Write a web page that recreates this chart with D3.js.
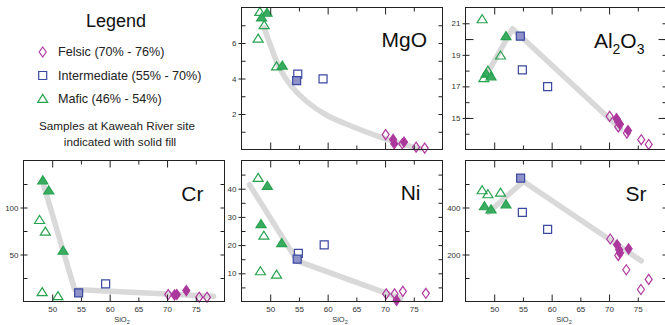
<!DOCTYPE html>
<html><head><meta charset="utf-8">
<script src="https://cdn.jsdelivr.net/npm/d3@7"></script>
<style>
body{margin:0;background:#fff}
svg{display:block}
text{font-family:"Liberation Sans",Arial,Helvetica,sans-serif}
</style>
</head><body>
<svg id="c" width="665" height="325"></svg>
<script>
// ---------------- DATA ----------------
const siDomain = [45, 80];
const xMajorTicks = [50, 60, 70];
const xMinorTicks = [55, 65, 75];
const xTickLabels = [50, 55, 60, 65, 70, 75];

const legendLabels = ["Felsic (70% - 76%)", "Intermediate (55% - 70%)", "Mafic (46% - 54%)"];
const legendGroups = ["F", "I", "M"];

// MgO
const mgoSi    = [47.9, 48.2, 49.45, 48.5, 48.95, 51.1, 52.1, 54.8, 54.6, 59.2, 70.1, 71.4, 71.6, 73.0, 73.3, 75.4, 76.9];
const mgoVal   = [6.24, 7.75, 7.7, 7.43, 7.0, 4.68, 4.72, 4.25, 3.88, 3.98, 0.84, 0.57, 0.32, 0.32, 0.42, 0.13, 0.08];
const mgoGroup = ["M","M","M","M","M","M","M","I","I","I","F","F","F","F","F","F","F"];
const mgoSolid = [0,0,1,1,0,0,1, 0,1,0, 0,1,1,0,1,0,0];
const mgoTrendSi  = [48.95, 50.1, 51.5, 53.5, 56.4, 59.85, 64.5, 69.2, 73.8, 76.2];
const mgoTrendVal = [6.86, 5.82, 4.68, 3.64, 2.69, 1.93, 1.27, 0.70, 0.23, 0.04];

// Al2O3
const alSi    = [47.9, 52.05, 51.1, 48.9, 48.6, 48.2, 49.45, 54.55, 54.9, 59.3, 70.1, 71.3, 71.6, 71.9, 71.6, 73.3, 73.1, 75.6, 76.9];
const alVal   = [21.25, 20.18, 18.95, 17.99, 17.8, 17.52, 17.63, 20.18, 18.05, 16.99, 15.1, 14.96, 14.75, 14.6, 14.43, 14.2, 14.04, 13.62, 13.32];
const alGroup = ["M","M","M","M","M","M","M","I","I","I","F","F","F","F","F","F","F","F","F"];
const alSolid = [0,1,0,0,1,0,1, 1,0,0, 0,1,1,1,0,1,0,0,0];
const alTrendSi  = [49.0, 53.2, 72.0];
const alTrendVal = [17.95, 20.66, 14.3];

// Cr
const crSi    = [48.36, 49.4, 47.8, 48.8, 51.9, 48.25, 51.0, 54.6, 59.3, 70.2, 71.3, 71.7, 73.35, 75.6, 76.95];
const crVal   = [128.8, 118, 86.6, 74.2, 53.9, 9.8, 5.6, 9.2, 18.7, 7.4, 7.0, 7.4, 11.6, 4.6, 4.6];
const crGroup = ["M","M","M","M","M","M","M","I","I","F","F","F","F","F","F"];
const crSolid = [1,1,0,0,1,0,0, 1,0, 0,1,1,1,0,0];
const crTrendSi  = [48.36, 53.9, 78.1];
const crTrendVal = [127, 12.7, 5.6];

// Ni
const niSi    = [47.9, 49.5, 48.4, 48.9, 52.0, 48.3, 51.1, 54.9, 54.7, 59.4, 70.2, 71.65, 72.0, 73.1, 77.1];
const niVal   = [43.8, 41.0, 27.4, 23.3, 20.7, 10.7, 9.5, 17.1, 15.0, 20.1, 2.7, 2.7, 0.4, 3.6, 2.9];
const niGroup = ["M","M","M","M","M","M","M","I","I","I","F","F","F","F","F"];
const niSolid = [0,1,1,0,1,0,0, 0,1,0, 0,0,1,0,0];
const niTrendSi  = [46.4, 54.7, 72.7];
const niTrendVal = [41.4, 14.4, 1.1];

// Sr
const srSi    = [47.9, 48.9, 51.1, 48.3, 49.45, 52.05, 54.6, 54.9, 59.3, 70.2, 71.4, 71.75, 71.9, 71.6, 73.4, 73.0, 75.55, 76.9];
const srVal   = [473, 456, 463, 405, 392, 413, 525, 379, 307, 266, 241, 220, 206, 196, 224, 135, 51, 94];
const srGroup = ["M","M","M","M","M","M","I","I","I","F","F","F","F","F","F","F","F","F"];
const srSolid = [0,0,0,1,1,1, 1,0,0, 0,1,1,1,0,1,0,0,0];
const srTrendSi  = [49.0, 55.1, 75.6];
const srTrendVal = [379, 511, 173];

// ---------------- STYLE ----------------
const strokeCol = {F: "#b0399f", I: "#3a48a0", M: "#27a34f"};
const fillCol   = {F: "#a8389a", I: "#8e92c9", M: "#3aac62"};
const shapePath = {
  F: "M0,-5L3.5,0L0,5L-3.5,0Z",
  I: "M-4,-4H4V4H-4Z",
  M: "M0,-4.6L5,3.4L-5,3.4Z"
};
const axisCol = "#222";
const labelCol = "#333";

const svg = d3.select("#c");

// ---------------- LEGEND ----------------
const lg = svg.append("g");
lg.append("text").attr("x", 116).attr("y", 26.5).attr("text-anchor", "middle")
  .attr("font-size", 18).attr("fill", "#111").text("Legend");
const legendY = d3.scalePoint().domain(legendGroups).range([52, 99]);
legendGroups.forEach((gname, i) => {
  lg.append("path").attr("d", shapePath[gname])
    .attr("transform", `translate(42.7,${legendY(gname)})`)
    .attr("fill", "#fff").attr("stroke", strokeCol[gname]).attr("stroke-width", 1.2);
  lg.append("text").attr("x", 58).attr("y", legendY(gname) + 4.2)
    .attr("font-size", 12.6).attr("fill", "#222").text(legendLabels[i]);
});
lg.append("text").attr("x", 117).attr("y", 130).attr("text-anchor", "middle")
  .attr("font-size", 11.7).attr("fill", "#222").text("Samples at Kaweah River site");
lg.append("text").attr("x", 120).attr("y", 145.5).attr("text-anchor", "middle")
  .attr("font-size", 11.7).attr("fill", "#222").text("indicated with solid fill");

// ---------------- PANELS ----------------
function drawPanel(p) {
  const g = svg.append("g");
  const x = d3.scaleLinear().domain(siDomain).range([p.x0, p.x1]);
  const y = d3.scaleLinear().domain(p.yDomain).range([p.y1, p.y0]);

  // trend line
  g.append("path")
    .datum(d3.zip(p.trendSi, p.trendVal))
    .attr("d", d3.line().x(d => x(d[0])).y(d => y(d[1])).curve(p.curve || d3.curveLinear))
    .attr("fill", "none").attr("stroke", "#d9d9d9").attr("stroke-width", 5.5)
    .attr("stroke-linecap", "round").attr("stroke-linejoin", "round");

  // points
  const pts = p.si.map((s, i) => ({s, v: p.val[i], grp: p.group[i], solid: p.solid[i]}));
  g.selectAll("path.pt").data(pts).enter().append("path")
    .attr("class", "pt")
    .attr("d", d => shapePath[d.grp])
    .attr("transform", d => `translate(${x(d.s)},${y(d.v)})`)
    .attr("fill", d => d.solid ? fillCol[d.grp] : "none")
    .attr("stroke", d => strokeCol[d.grp])
    .attr("stroke-width", 1.2);

  // ticks helper
  function tk(axis, tx, ty, showText) {
    const a = g.append("g").attr("transform", `translate(${tx},${ty})`).call(axis);
    a.select(".domain").remove();
    a.selectAll("line").attr("stroke", axisCol).attr("stroke-width", 1);
    if (!showText) a.selectAll("text").remove();
    else a.selectAll("text").attr("fill", labelCol).attr("font-size", 8)
          .attr("font-family", "Liberation Sans, Arial, sans-serif");
    return a;
  }
  // x ticks (bottom & top, inward)
  tk(d3.axisBottom(x).tickValues(xMajorTicks).tickSize(-7), 0, p.y1, false);
  tk(d3.axisBottom(x).tickValues(xMinorTicks).tickSize(-4), 0, p.y1, false);
  tk(d3.axisTop(x).tickValues(xMajorTicks).tickSize(-7), 0, p.y0, false);
  tk(d3.axisTop(x).tickValues(xMinorTicks).tickSize(-4), 0, p.y0, false);
  // y ticks (left & right, inward)
  tk(d3.axisLeft(y).tickValues(p.yTicks).tickSize(-4), p.x0, 0, false);
  tk(d3.axisRight(y).tickValues(p.yTicks).tickSize(-4), p.x1, 0, false);
  if (p.yMajor) {
    tk(d3.axisLeft(y).tickValues(p.yMajor).tickSize(-8), p.x0, 0, false);
    tk(d3.axisRight(y).tickValues(p.yMajor).tickSize(-8), p.x1, 0, false);
  }
  // labelled y ticks (crossing outward)
  tk(d3.axisLeft(y).tickValues(p.yLabels).tickSize(3).tickPadding(2).tickFormat(d3.format("d")), p.x0, 0, true);
  // x labels for bottom row
  if (p.xLabels) {
    tk(d3.axisBottom(x).tickValues(xTickLabels).tickSize(0).tickPadding(5).tickFormat(d3.format("d")), 0, p.y1, true);
    const t = g.append("text").attr("x", (p.x0 + p.x1) / 2 - 2).attr("y", p.y1 + 20)
      .attr("text-anchor", "middle").attr("font-size", 7.5).attr("fill", labelCol);
    t.append("tspan").text("SiO");
    t.append("tspan").attr("font-size", 5.5).attr("dy", 2).text("2");
  }
  // frame
  g.append("rect").attr("x", p.x0).attr("y", p.y0)
    .attr("width", p.x1 - p.x0).attr("height", p.y1 - p.y0)
    .attr("fill", "none").attr("stroke", axisCol).attr("stroke-width", 1);

  // panel title
  const t = g.append("text").attr("x", p.x1 - p.titleRight).attr("y", p.y0 + p.titleBase)
    .attr("text-anchor", "end").attr("font-size", 21).attr("fill", "#111");
  p.title.forEach(part => {
    const ts = t.append("tspan").text(part.t);
    if (part.sub) ts.attr("font-size", 14).attr("dy", 6);
    else if (part.after) ts.attr("dy", -6);
  });
}

const topY0 = 7.5, topY1 = 149.5, botY0 = 160.5, botY1 = 301.5;

drawPanel({x0: 241.5, x1: 442.5, y0: topY0, y1: topY1, yDomain: [0, 8],
  yTicks: [1,2,3,4,5,6,7], yLabels: [2,4,6],
  si: mgoSi, val: mgoVal, group: mgoGroup, solid: mgoSolid,
  trendSi: mgoTrendSi, trendVal: mgoTrendVal, curve: d3.curveCatmullRom,
  title: [{t: "MgO"}], titleRight: 15.5, titleBase: 39.5});

drawPanel({x0: 465.5, x1: 666.5, y0: topY0, y1: topY1, yDomain: [13, 22],
  yTicks: [14,15,16,17,18,19,20,21], yMajor: [15, 20], yLabels: [15,17,19,21],
  si: alSi, val: alVal, group: alGroup, solid: alSolid,
  trendSi: alTrendSi, trendVal: alTrendVal,
  title: [{t: "Al"}, {t: "2", sub: true}, {t: "O", after: true}, {t: "3", sub: true}],
  titleRight: 22, titleBase: 40});

drawPanel({x0: 23.5, x1: 224.5, y0: botY0, y1: botY1, yDomain: [0, 150],
  yTicks: [25,50,75,100,125], yLabels: [50,100], xLabels: true,
  si: crSi, val: crVal, group: crGroup, solid: crSolid,
  trendSi: crTrendSi, trendVal: crTrendVal,
  title: [{t: "Cr"}], titleRight: 21, titleBase: 40});

drawPanel({x0: 241.5, x1: 442.5, y0: botY0, y1: botY1, yDomain: [0, 50],
  yTicks: [5,10,15,20,25,30,35,40,45], yLabels: [10,20,30,40], xLabels: true,
  si: niSi, val: niVal, group: niGroup, solid: niSolid,
  trendSi: niTrendSi, trendVal: niTrendVal,
  title: [{t: "Ni"}], titleRight: 22, titleBase: 39.5});

drawPanel({x0: 465.5, x1: 666.5, y0: botY0, y1: botY1, yDomain: [0, 600],
  yTicks: [100,200,300,400,500], yLabels: [200,400], xLabels: true,
  si: srSi, val: srVal, group: srGroup, solid: srSolid,
  trendSi: srTrendSi, trendVal: srTrendVal,
  title: [{t: "Sr"}], titleRight: 20, titleBase: 40.5});
</script>
</body></html>
